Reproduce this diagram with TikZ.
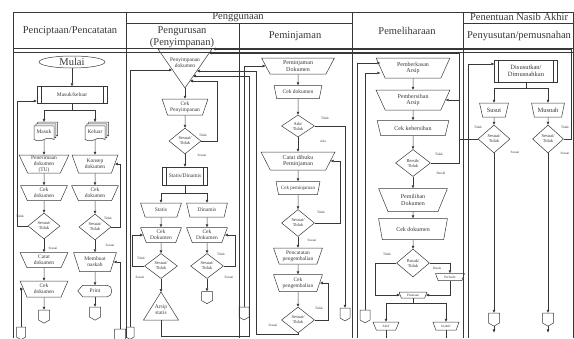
\documentclass[tikz,border=0pt]{standalone}
\usepackage{fontspec}
\setmainfont{Liberation Serif}
\usetikzlibrary{shapes.geometric,shapes.symbols,shadows,arrows.meta}
\definecolor{lineg}{rgb}{0.22,0.22,0.22}
\newcommand\fsHead{\fontsize{10.5}{12}\selectfont}
\newcommand\fsBig{\fontsize{6.5}{7.2}\selectfont}
\newcommand\fsMid{\fontsize{6}{6.6}\selectfont}
\newcommand\fsBody{\fontsize{5.5}{5.9}\selectfont}
\newcommand\fsDec{\fontsize{4.5}{5}\selectfont}
\newcommand\fsLab{\fontsize{3.4}{4}\selectfont}
\tikzset{
  flow/.style={-{Triangle[length=3pt,width=2.6pt]}},
  head/.style={font=\fsHead, inner sep=0pt, align=center},
  lab/.style={font=\fsLab, inner sep=0pt},
  terminal/.style={draw, ellipse, minimum width=66pt, minimum height=12pt, inner sep=0pt, font=\fsHead},
  subproc/.style={draw, rectangle, minimum width=#1, minimum height=17pt, inner sep=1pt, align=center, font=\fsBody,
    path picture={\draw ([xshift=4pt]path picture bounding box.north west) -- ([xshift=4pt]path picture bounding box.south west)
      ([xshift=-4pt]path picture bounding box.north east) -- ([xshift=-4pt]path picture bounding box.south east);}},
  manual/.style={draw, trapezium, shape border rotate=180, trapezium left angle=68, trapezium right angle=68,
    trapezium stretches=true, minimum width=#1, minimum height=15pt, inner sep=0.5pt, align=center, font=\fsBody},
  decision/.style={draw, diamond, aspect=1.25, minimum width=32pt, minimum height=26pt, inner sep=0pt, align=center, font=\fsDec},
  doc/.style={draw, fill=white, tape, tape bend top=none, tape bend height=2.5pt, minimum width=20pt, minimum height=15pt,
    inner sep=0.5pt, font=\fsBody, double copy shadow={shadow xshift=1.8pt, shadow yshift=1.8pt}},
  offpage/.style={draw, signal, signal to=south, signal from=nowhere, signal pointer angle=120,
    minimum width=11pt, minimum height=10pt, inner sep=0pt},
  display/.style={minimum width=34pt, minimum height=11pt, inner sep=0pt, font=\fsBody}
}
\begin{document}
\begin{tikzpicture}[x=1pt, y=-1pt, line width=0.5pt, color=lineg]
  \useasboundingbox (0,0) rectangle (574,338);
  % tabel
  \draw (13,338) -- (13,12) -- (573,12) -- (573,338);
  \draw (13,48) -- (573,48) (13,52) -- (573,52);
  \draw (126,12) -- (126,338) (352,12) -- (352,338) (463,12) -- (463,338);
  \draw (239,23) -- (239,338);
  \draw (126,23) -- (352,23) (463,23) -- (573,23);
  \node[head] (hCipta) at (70,31) {Penciptaan/Pencatatan};
  \node[head] (hGuna) at (238,17) {Penggunaan};
  \node[head] (hUrus) at (182,37) {Pengurusan\\(Penyimpanan)};
  \node[head] (hPinjam) at (295,36) {Peminjaman};
  \node[head] (hPelihara) at (407,31) {Pemeliharaan};
  \node[head] (hNasib) at (519,17) {Penentuan Nasib Akhir};
  \node[head] (hSusut) at (519,36) {Penyusutan/pemusnahan};

  % penciptaan / pencatatan
  \node[terminal] (mulai) at (72,62) {Mulai};
  \node[subproc=70pt] (inout) at (72,95) {Masuk/keluar};
  \coordinate (splitA) at (72,110);
  \node[doc] (masuk) at (44,132) {Masuk};
  \node[doc] (keluar) at (95,132) {Keluar};
  \node[manual=50pt, minimum height=18pt] (terima) at (44,164) {Penerimaan\\dokumen\\(TU)};
  \node[manual=46pt, minimum height=18pt] (konsep) at (95,164) {Konsep\\dokumen};
  \node[manual=47pt] (cekA) at (44,193) {Cek\\dokumen};
  \node[manual=47pt] (cekB) at (95,193) {Cek\\dokumen};
  \node[decision] (decA) at (44,226) {Sesuai/\\Tidak};
  \node[decision] (decB) at (95,227) {Sesuai/\\Tidak};
  \node[manual=48pt] (catat) at (44,260) {Catat\\dokumen};
  \node[manual=48pt, minimum height=16pt] (cekC) at (44,289) {Cek\\dokumen};
  \node[offpage] (offA) at (44,315) {};
  \node[manual=43pt, minimum height=19pt] (naskah) at (95,262) {Membuat\\naskah};
  \node[display] (print) at (95,291) {Print};
  \draw ([xshift=5pt]print.north west) -- ([xshift=-5pt]print.north east)
    .. controls ([xshift=1pt]print.north east) and ([xshift=1pt]print.south east) .. ([xshift=-5pt]print.south east)
    -- ([xshift=5pt]print.south west) -- (print.west) -- cycle;
  \node[offpage] (offB) at (95,312) {};
  \node[offpage, minimum width=9pt] (offC) at (21,332) {};
  \node[offpage] (offD) at (120,334) {};

  \draw[flow] (mulai) -- (inout);
  \draw (inout) -- (splitA);
  \draw[flow] (splitA) -| ([yshift=3.6pt]masuk.north);
  \draw[flow] (splitA) -| ([yshift=3.6pt]keluar.north);
  \draw[flow] (masuk) -- (terima);
  \draw[flow] (keluar) -- (konsep);
  \draw[flow] (terima) -- (cekA);
  \draw[flow] (konsep) -- (cekB);
  \draw[flow] (cekA) -- (decA);
  \draw[flow] (cekB) -- (decB);
  \draw[flow] (decA) -- (catat);
  \draw[flow] (catat) -- (cekC);
  \draw[flow] (cekC) -- (offA);
  \draw[flow] (decB) -- (naskah);
  \draw[flow] (naskah) -- (print);
  \draw[flow] (print) -- (offB);
  \draw[flow] (decA.west) -- ++(-11,0) |- ([yshift=-6pt]inout.west);
  \draw[flow] (decB.east) -- ++(9,0) |- (konsep.east);
  \draw[flow] (offD.north) |- (naskah.east);
  \draw[flow] (offC.north) |- (cekC.west);
  \node[lab] (lA1) at (20,216) {Tidak};
  \node[lab] (lA2) at (53,248) {Sesuai};
  \node[lab] (lB1) at (108,218) {Tidak};
  \node[lab] (lB2) at (110,245) {Sesuai};

  % pengurusan (penyimpanan)
  \draw (158,49) -- (212,49) -- (185,88) -- cycle;
  \node[font=\fsBody, align=center, inner sep=0pt] (simpan) at (185,63) {Penyimpanan\\dokumen};
  \coordinate (simpanTip) at (185,88);
  \coordinate (inA) at (213,49);
  \coordinate (inB) at (209,53);
  \coordinate (inC) at (197,71);
  \coordinate (inD) at (193,76);
  \coordinate (inE) at (190,81);
  \coordinate (inF) at (172,70);
  \node[manual=46pt, minimum height=16pt] (cekSimpan) at (185,107) {Cek\\Penyimpanan};
  \node[decision] (decC) at (185,141) {Sesuai/\\Tidak};
  \node[subproc=45pt, minimum height=18pt] (statdin) at (185,176) {Statis/Dinamis};
  \coordinate (splitB) at (185,193);
  \node[manual=41pt, minimum height=14pt] (statis) at (161,210) {Statis};
  \node[manual=41pt, minimum height=14pt] (dinamis) at (207,210) {Dinamis};
  \node[manual=41pt] (cekD) at (161,235) {Cek\\Dokumen};
  \node[manual=41pt] (cekE) at (207,235) {Cek\\Dokumen};
  \node[decision, minimum width=33pt, minimum height=25pt] (decD) at (161,266) {Sesuai/\\Tidak};
  \node[decision, minimum width=33pt, minimum height=25pt] (decE) at (207,266) {Sesuai/\\Tidak};
  \draw (143.5,320) -- (178.5,320) -- (161,292) -- cycle;
  \node[font=\fsBody, align=center, inner sep=0pt] (arsip) at (161,310) {Arsip\\statis};
  \coordinate (arsipTop) at (161,292);
  \coordinate (arsipBase) at (161,320);
  \node[offpage, minimum height=9pt] (offE) at (207,296) {};
  \node[offpage, minimum width=8pt] (offF) at (130,332) {};

  \draw[flow] (simpanTip) -- (cekSimpan);
  \draw[flow] (cekSimpan) -- (decC);
  \draw[flow] (decC) -- (statdin);
  \draw (statdin) -- (splitB);
  \draw[flow] (splitB) -| (statis.north);
  \draw[flow] (splitB) -| (dinamis.north);
  \draw[flow] (statis) -- (cekD);
  \draw[flow] (dinamis) -- (cekE);
  \draw[flow] (cekD) -- (decD);
  \draw[flow] (cekE) -- (decE);
  \draw[flow] (decD.south) -- (arsipTop);
  \draw[flow] (decE) -- (offE);
  \draw[flow] (decC.east) -- ++(16,0) |- (inE);
  \draw[flow] (decD.west) -- ++(-12,0) |- (cekD.west);
  \draw[flow] (decE.east) -- ++(11,0) |- (cekE.east);
  \draw[flow] (offF.north) |- (inF);
  \draw[flow] (arsipBase) |- (249,336) |- (inD);
  \node[lab] (lC1) at (203,135) {Tidak};
  \node[lab] (lC2) at (202,155) {Sesuai};
  \node[lab] (lD1) at (141,258) {Tidak};
  \node[lab] (lD2) at (140,277) {Sesuai};
  \node[lab] (lE1) at (221,254) {Tidak};
  \node[lab] (lE2) at (229,277) {Sesuai};

  % peminjaman
  \node[manual=73pt, minimum height=16pt, font=\fsMid] (pinjam) at (298,66) {Peminjaman\\Dokumen};
  \node[manual=48pt, minimum height=13pt] (cekF) at (298,92) {Cek dokumen};
  \node[decision, minimum width=33pt, minimum height=22pt] (decF) at (298,126) {Ada/\\Tidak};
  \node[manual=74pt, minimum height=18pt, font=\fsMid] (catatPinjam) at (298,161) {Catat dibuku\\Peminjaman};
  \node[manual=44pt, minimum height=13pt, font=\fontsize{5}{6}\selectfont] (cekG) at (298,188) {Cek peminjaman};
  \node[decision, minimum width=33pt, minimum height=27pt] (decG) at (298,223) {Sesuai/\\Tidak};
  \node[manual=49pt, minimum height=16pt] (kembali) at (298,256) {Pencatatan\\pengembalian};
  \node[manual=49pt, minimum height=17pt] (cekH) at (298,283) {Cek\\pengembalian};
  \node[decision, minimum width=33pt, minimum height=26pt] (decH) at (298,320) {Sesuai/\\Tidak};
  \node[offpage, minimum width=10pt] (offG) at (244,312) {};
  \node[offpage, minimum width=10pt] (offH) at (345,313) {};

  \draw[flow] (pinjam) -- (cekF);
  \draw[flow] (cekF) -- (decF);
  \draw[flow] (decF) -- (catatPinjam);
  \draw[flow] (catatPinjam) -- (cekG);
  \draw[flow] (cekG) -- (decG);
  \draw[flow] (decG) -- (kembali);
  \draw[flow] (kembali) -- (cekH);
  \draw[flow] (cekH) -- (decH);
  \draw[flow] (offG.north) |- (pinjam.west);
  \draw[flow] (decF.east) -| (offH.north);
  \draw[flow] (decG.east) -- ++(25,0) |- (catatPinjam.east);
  \draw[flow] (decH.east) -- ++(13,0) |- (cekH.east);
  \draw[flow] (decH.south) |- (256,334) |- (inC);
  \node[lab] (lF1) at (325,118) {Tidak};
  \node[lab] (lF2) at (323,141) {Ada};
  \node[lab] (lG1) at (321,212) {Tidak};
  \node[lab] (lG2) at (312,240) {Sesuai};
  \node[lab] (lH1) at (319,308) {Tidak};
  \node[lab] (lH2) at (273,325) {Sesuai};

  % pemeliharaan
  \node[manual=74pt, minimum height=20pt, font=\fsMid] (berkas) at (413,68) {Pemberkasan\\Arsip};
  \node[manual=74pt, minimum height=20pt, font=\fsMid] (bersih) at (413,100) {Pembersihan\\Arsip};
  \node[manual=72pt, minimum height=15pt, font=\fsMid] (cekI) at (413,128) {Cek kebersihan};
  \node[decision, minimum width=35pt, minimum height=27pt] (decI) at (413,163) {Bersih/\\Tidak};
  \node[manual=69pt, minimum height=23pt, font=\fsMid] (pilih) at (413,200) {Pemilihan\\Dokumen};
  \node[manual=69pt, minimum height=21pt, font=\fsMid] (cekJ) at (413,229) {Cek dokumen};
  \node[decision, minimum width=33pt, minimum height=28pt] (decJ) at (413,263) {Rusak/\\Tidak};
  \node[manual=29pt, minimum height=7pt, font=\fsLab] (perbaiki) at (450,277) {Perbaiki};
  \node[manual=28pt, minimum height=6pt, font=\fsLab] (penataan) at (413,295) {Penataan};
  \coordinate (splitD) at (413,303);
  \node[manual=26pt, minimum height=8pt, font=\fsLab] (aktif) at (386,326) {Aktif};
  \node[manual=26pt, minimum height=8pt, font=\fsLab] (inaktif) at (446,326) {Inaktif};
  \node[offpage, minimum width=10pt] (offI) at (365,315) {};
  \coordinate (backG) at (357,338);

  \draw[flow] (berkas) -- (bersih);
  \draw[flow] (bersih) -- (cekI);
  \draw[flow] (cekI) -- (decI);
  \draw[flow] (decI) -- (pilih);
  \draw[flow] (pilih) -- (cekJ);
  \draw[flow] (cekJ) -- (decJ);
  \draw[flow] (backG) |- ([yshift=5pt]berkas.west);
  \draw[flow] (offI.north) |- ([yshift=-5pt]berkas.west);
  \draw[flow] (decI.east) -- ++(28.5,0) |- (bersih.east);
  \draw[flow] (decJ.west) -- ++(-21,0) |- (penataan.west);
  \draw[flow] (decJ.east) -| (perbaiki.north);
  \draw[flow] (perbaiki.south) |- (penataan.east);
  \draw (penataan) -- (splitD);
  \draw[flow] (splitD) -| (aktif.north);
  \draw[flow] (splitD) -| (inaktif.north);
  \draw (aktif.south) -- (aktif.south |- 0,338);
  \draw (inaktif.south) -- (inaktif.south |- 0,338);
  \node[lab] (lI1) at (439,154) {Tidak};
  \node[lab] (lI2) at (441,173) {Bersih};
  \node[lab] (lJ1) at (387,254) {Tidak};
  \node[lab] (lJ2) at (437,268) {Rusak};

  % penyusutan / pemusnahan
  \node[subproc=63pt, minimum height=22pt, font=\fsBig] (susun) at (526,71) {Disusutkan/\\Dimusnahkan};
  \coordinate (splitE) at (526,88);
  \node[manual=29pt, minimum height=14pt, font=\fsBig] (susut) at (494,110) {Susut};
  \node[manual=33pt, minimum height=14pt, font=\fsBig] (musnah) at (548,110) {Musnah};
  \node[decision, minimum width=32pt, minimum height=28pt] (decK) at (494,139) {Sesuai/\\Tidak};
  \node[decision, minimum width=31pt, minimum height=28pt] (decL) at (548,139) {Sesuai/\\Tidak};
  \node[offpage] (offJ) at (494,318) {};
  \node[offpage] (offK) at (548,318) {};
  \coordinate (backF) at (468,338);

  \draw[flow] (backF) |- ([yshift=7pt]susun.west);
  \draw (susun) -- (splitE);
  \draw[flow] (splitE) -| (susut.north);
  \draw[flow] (splitE) -| (musnah.north);
  \draw[flow] (susut) -- (decK);
  \draw[flow] (musnah) -- (decL);
  \draw[flow] (decK) -- (offJ);
  \draw[flow] (decL) -- (offK);
  \draw[flow] (offJ.south) -- ++(0,6);
  \draw[flow] (offK.south) -- ++(0,6);
  \draw[flow] (decK.west) -- ++(-19,0) |- (inB);
  \draw[flow] (decL.east) -- ++(7.5,0) |- (inA);
  \node[lab] (lK1) at (478,127) {Tidak};
  \node[lab] (lK2) at (515,152) {Sesuai};
  \node[lab] (lL1) at (565,127) {Tidak};
  \node[lab] (lL2) at (565,153) {Sesuai};
\end{tikzpicture}
\end{document}
